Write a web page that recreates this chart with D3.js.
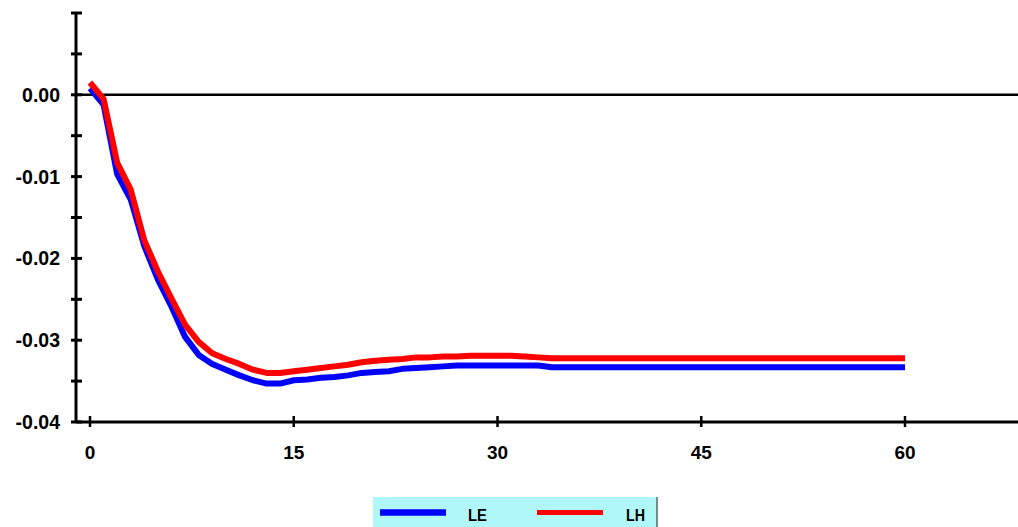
<!DOCTYPE html>
<html>
<head>
<meta charset="utf-8">
<script src="https://cdn.jsdelivr.net/npm/d3@7"></script>
<style>
  html, body { margin: 0; padding: 0; background: #ffffff; }
  svg { display: block; }
  text { font-family: "Liberation Sans", Arial, Helvetica, sans-serif; font-weight: bold; fill: #000; }
</style>
</head>
<body>
<svg id="chart" width="1018" height="527"></svg>
<script>
// ---- data ----
const periods = d3.range(0, 61);
const seriesNames = ["LE", "LH"];
const seriesColors = ["#0000ff", "#ff0000"];
const LE = [
  0.0008, -0.0012, -0.0097, -0.0128, -0.0185, -0.0226, -0.0259, -0.0296, -0.0318, -0.0329,
  -0.0336, -0.0343, -0.0349, -0.0353, -0.0353, -0.0349, -0.0348, -0.0346, -0.0345, -0.0343,
  -0.0340, -0.0339, -0.0338, -0.0335, -0.0334, -0.0333, -0.0332, -0.0331, -0.0331, -0.0331,
  -0.0331, -0.0331, -0.0331, -0.0331, -0.0333, -0.0333, -0.0333, -0.0333, -0.0333, -0.0333,
  -0.0333, -0.0333, -0.0333, -0.0333, -0.0333, -0.0333, -0.0333, -0.0333, -0.0333, -0.0333,
  -0.0333, -0.0333, -0.0333, -0.0333, -0.0333, -0.0333, -0.0333, -0.0333, -0.0333, -0.0333,
  -0.0333
];
const LH = [
  0.0015, -0.0005, -0.0083, -0.0116, -0.0178, -0.0216, -0.0249, -0.0281, -0.0302, -0.0316,
  -0.0323, -0.0329, -0.0336, -0.0340, -0.0340, -0.0338, -0.0336, -0.0334, -0.0332, -0.0330,
  -0.0327, -0.0325, -0.0324, -0.0323, -0.0321, -0.0321, -0.0320, -0.0320, -0.0319, -0.0319,
  -0.0319, -0.0319, -0.0320, -0.0321, -0.0322, -0.0322, -0.0322, -0.0322, -0.0322, -0.0322,
  -0.0322, -0.0322, -0.0322, -0.0322, -0.0322, -0.0322, -0.0322, -0.0322, -0.0322, -0.0322,
  -0.0322, -0.0322, -0.0322, -0.0322, -0.0322, -0.0322, -0.0322, -0.0322, -0.0322, -0.0322,
  -0.0322
];
const xTickValues = [0, 15, 30, 45, 60];
const yLabelValues = [0.00, -0.01, -0.02, -0.03, -0.04];
const yTickValues = [0.01, 0.005, 0.00, -0.005, -0.01, -0.015, -0.02, -0.025, -0.03, -0.035, -0.04];

// ---- layout ----
const svg = d3.select("#chart");
const axisX = 76, axisRight = 1018;
const x = d3.scaleLinear().domain([0, 60]).range([90, 905]);
const y = d3.scaleLinear().domain([-0.04, 0.01]).range([422, 13]);

// y axis line
svg.append("line").attr("x1", axisX).attr("x2", axisX)
  .attr("y1", y(0.01)).attr("y2", y(-0.04))
  .attr("stroke", "#000").attr("stroke-width", 3);
// y ticks (crossing)
svg.selectAll(".ytick").data(yTickValues).enter().append("line")
  .attr("x1", axisX - 5).attr("x2", axisX + 6)
  .attr("y1", d => y(d)).attr("y2", d => y(d))
  .attr("stroke", "#000").attr("stroke-width", 3);
// y labels (plain hyphen minus)
svg.selectAll(".ylab").data(yLabelValues).enter().append("text")
  .attr("x", 60).attr("y", d => y(d)).attr("dy", "0.36em")
  .attr("text-anchor", "end").attr("font-size", 19.5)
  .text(d => (Math.abs(d) < 1e-12 ? 0 : d).toFixed(2));

// zero line
svg.append("line").attr("x1", axisX).attr("x2", axisRight)
  .attr("y1", y(0)).attr("y2", y(0))
  .attr("stroke", "#000").attr("stroke-width", 2.5);

// x axis line
svg.append("line").attr("x1", axisX).attr("x2", axisRight)
  .attr("y1", y(-0.04)).attr("y2", y(-0.04))
  .attr("stroke", "#000").attr("stroke-width", 3);
svg.selectAll(".xtick").data(xTickValues).enter().append("line")
  .attr("x1", d => x(d)).attr("x2", d => x(d))
  .attr("y1", y(-0.04) - 6).attr("y2", y(-0.04) + 5)
  .attr("stroke", "#000").attr("stroke-width", 2.5);
svg.selectAll(".xlab").data(xTickValues).enter().append("text")
  .attr("x", d => x(d)).attr("y", 459)
  .attr("text-anchor", "middle").attr("font-size", 19)
  .text(d => d);

// series lines
const line = d3.line().x((d, i) => x(periods[i])).y(d => y(d));
[LE, LH].forEach((s, k) => {
  svg.append("path").datum(s)
    .attr("d", line)
    .attr("fill", "none")
    .attr("stroke", seriesColors[k])
    .attr("stroke-width", 6)
    .attr("stroke-linejoin", "round");
});

// legend
const lg = svg.append("g");
lg.append("rect").attr("x", 373).attr("y", 497).attr("width", 284).attr("height", 40)
  .attr("fill", "#b0f7f7");
lg.append("line").attr("x1", 657).attr("x2", 657).attr("y1", 497).attr("y2", 527)
  .attr("stroke", "#6f8f8f").attr("stroke-width", 2);
const legendItems = [
  { x1: 380, x2: 446, tx: 468, w: 6.5 },
  { x1: 537, x2: 603, tx: 626, w: 5 }
];
legendItems.forEach((it, k) => {
  lg.append("line").attr("x1", it.x1).attr("x2", it.x2).attr("y1", 512.5).attr("y2", 512.5)
    .attr("stroke", seriesColors[k]).attr("stroke-width", it.w);
  lg.append("text").attr("x", it.tx).attr("y", 521).attr("font-size", 16)
    .attr("textLength", 19).attr("lengthAdjust", "spacingAndGlyphs")
    .text(seriesNames[k]);
});
</script>
</body>
</html>
